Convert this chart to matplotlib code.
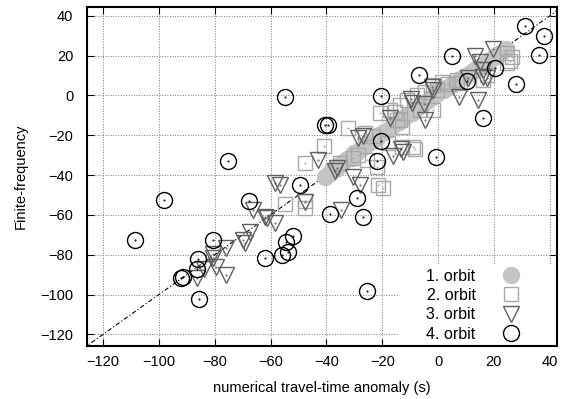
import numpy as np
import matplotlib.pyplot as plt
from matplotlib.lines import Line2D
from matplotlib.patches import Rectangle

plt.rcParams['font.family'] = ['Liberation Sans', 'DejaVu Sans']

# orbit 1: filled grey, along the diagonal
o1_x = [-40.5, -39, -38, -36.5, -35, -34, -32.5, -31, -30, -29, -27.5, -26, -25, -23.5,
        -22, -21, -19.5, -18, -16.5, -15, -14, -12.5, -11, -9.5, -8, -7, -5.5, -4, -2.5,
        -1, 0.5, 2, 3.5, 5, 6.5, 8, 9.5, 11, 12.5, 14, 15.5, 17, 18.5, 20, 21.5, 23, 24.5]
o1_y = [-41, -39.5, -37.5, -37, -35, -33.5, -32, -31.5, -29, -28.5, -27, -25.5, -24, -23,
        -21.5, -20, -18.5, -17.5, -15.5, -14, -13.5, -11.5, -10, -9, -7, -5.5, -4.5, -3, -1.5,
        0, 1.5, 3, 4.5, 5.5, 7, 8.5, 10, 11, 12.5, 14, 15, 16.5, 18, 19.5, 21, 22, 23.5]

# orbit 2: squares
o2_x = [26.4, 24.6, 25.8, 24.6, 17.4, 16.2, 6.7, 3.7, 1.3, 7.8, -1.7, -0.5, -4.7, -7.7,
        -11.3, -13.7, -20.8, -15.4, -17.2, -6.5, -1.7, -13.7, -14.8, -13.1, -32.2, -26.2,
        -23.2, -17.8, -8.3, -13.1, -8.9, -40.8, -35.2, -28.6, -25.6, -22, -47.7, -30.4,
        -21.4, -19.8, -54.9, -47.7, -47.7]
o2_y = [19.5, 21.2, 17.5, 16.2, 10.4, 8, 7.8, 5.8, 7, 6.2, 5.3, 2.8, 2, 0.3,
        -2.2, -4.7, -8.9, -8.1, -7.2, -7.2, -7.2, -12.3, -12.3, -15.6, -16.5, -19,
        -20.6, -24, -27, -25.7, -25.7, -25.2, -34, -29.9, -32.4, -35.7, -34, -31.5,
        -44.9, -46.3, -54.6, -52.8, -56.4]

# orbit 3: triangles
o3_x = [19.7, 13.2, 15, 16.2, 17.4, 16.1, 10.8, -2.3, -1.7, 7.5, 14.4, -9.7, -9.5, -5,
        -4.7, -17.2, -28.6, -26.8, -13.4, -16.1, -12.5, -30.4, -28, -36.3, -37, -43,
        -56.7, -58.5, -47.7, -62, -34.8, -66.2, -61.4, -58.5, -67.3, -69.8, -69.2,
        -75.8, -80.6, -80.6, -79.7, -75.8, -84, -86.5]
o3_y = [23.6, 20, 16.8, 12.9, 8.7, 9.5, 8.7, 4.2, 2.8, -1, -2.4, -1.8, -3.9, -4.5,
        -12.2, -11.4, -21.5, -20.6, -26.9, -30.2, -28.2, -40.8, -44.9, -36.5, -38, -32.4,
        -44.9, -44, -53.3, -60.9, -57.5, -57.5, -61.7, -63.9, -68.8, -72.6, -74.2,
        -76.7, -79.6, -81.8, -86, -90.2, -87, -91.8]

# orbit 4: open circles
o4_x = [31, 38, 36, 5, 20.5, -7, 28, 10.5, -20.5, 16, -20.5, -55, -40.5, -39.5, -22,
        -0.9, -49.5, -29, -38.7, -26.8, -75.4, -98, -67.6, -108.6, -80.7, -86, -86.5,
        -92, -91.5, -85.8, -62, -56, -53.7, -54.3, -51.9, -25.5]
o4_y = [35, 30, 20.5, 20, 14, 10.5, 6, 7.5, -0.5, -11.5, -23, -1, -15, -15, -33,
        -31, -45, -51.5, -59.5, -61, -32.7, -52.5, -53, -72.6, -72.6, -82, -87,
        -91.5, -91, -102.3, -81.8, -80.3, -78.4, -73.4, -70.6, -98]

labels = ['1. orbit', '2. orbit', '3. orbit', '4. orbit']

fig = plt.figure(figsize=(5.66, 3.99), dpi=100)
ax = fig.add_axes([0.154, 0.1336, 0.8296, 0.8481])

ax.plot([-130, 50], [-130, 50], color='black', lw=0.8, ls=(0, (4, 2, 1, 2)), zorder=1)

sq_c = '#a8a8a8'
tr_c = '#606060'
ax.plot(o1_x, o1_y, 'o', ms=11.5, mfc='#c4c4c4', mec='#c4c4c4', zorder=2)
ax.plot(o2_x, o2_y, 's', ms=10.5, mfc='none', mec=sq_c, mew=1.0, zorder=3)
ax.plot(o2_x, o2_y, '.', ms=1, color=sq_c, zorder=3)
ax.plot(o3_x, o3_y, 'v', ms=11.5, mfc='none', mec=tr_c, mew=1.0, zorder=4)
ax.plot(o3_x, o3_y, '.', ms=1, color=tr_c, zorder=4)
ax.plot(o4_x, o4_y, 'o', ms=11.5, mfc='none', mec='black', mew=1.0, zorder=5)
ax.plot(o4_x, o4_y, '.', ms=1, color='black', zorder=5)

ax.set_xlim(-125.7, 42.5)
ax.set_ylim(-125.7, 44.3)
ax.set_xticks(np.arange(-120, 41, 20))
ax.set_yticks(np.arange(-120, 41, 20))
ax.grid(True, ls=':', color='#777777', lw=0.7, zorder=0.5)
ax.set_axisbelow(True)
ax.tick_params(direction='in', top=True, right=True, length=5, labelsize=10.5)
ax.tick_params(axis='y', pad=10)
ax.tick_params(axis='x', pad=7)
for s in ax.spines.values():
    s.set_linewidth(1.5)

# white key box hides the grid behind the legend
ax.add_patch(Rectangle((-14.5, -125.7), 57, 40.5, facecolor='white', edgecolor='none', zorder=0.8))

ax.set_xlabel('numerical travel-time anomaly (s)', fontsize=10.5, labelpad=8)
ax.set_ylabel('Finite-frequency', fontsize=10.5, labelpad=9)

handles = [
    Line2D([], [], ls='none', marker='o', ms=11.5, mfc='#c4c4c4', mec='#c4c4c4'),
    Line2D([], [], ls='none', marker='s', ms=10.5, mfc='none', mec=sq_c),
    Line2D([], [], ls='none', marker='v', ms=11.5, mfc='none', mec=tr_c),
    Line2D([], [], ls='none', marker='o', ms=11.5, mfc='none', mec='black'),
]
ax.legend(handles, labels, loc='lower right', markerfirst=False, fontsize=11.5,
          frameon=False, labelspacing=0.28, handlelength=2.5,
          handletextpad=1.0, borderpad=0.2, bbox_to_anchor=(0.97, -0.022))

fig.savefig('out.png', dpi=100)
